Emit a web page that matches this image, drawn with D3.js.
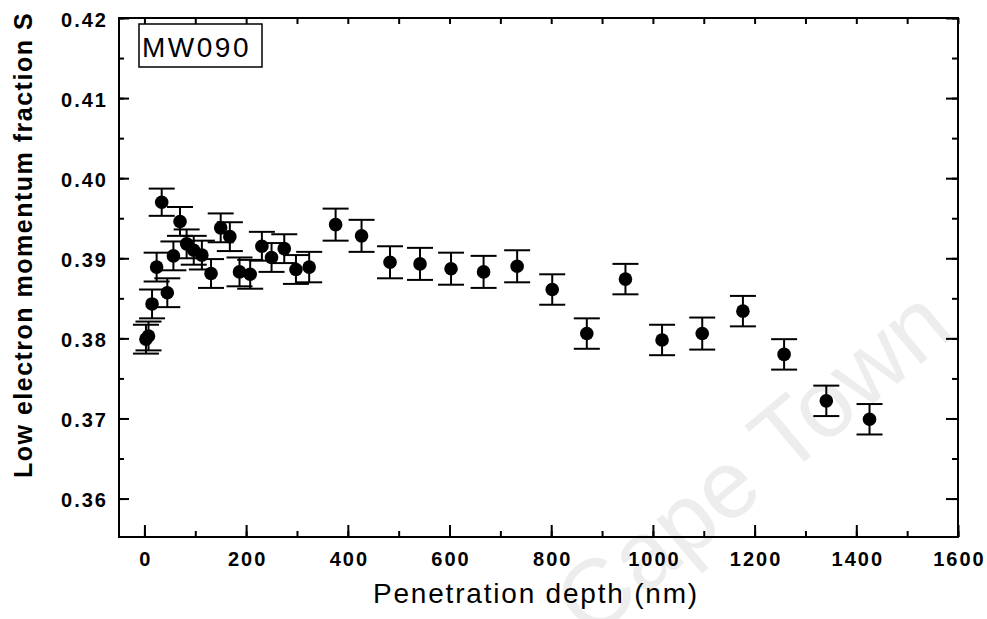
<!DOCTYPE html>
<html>
<head>
<meta charset="utf-8">
<script src="https://cdn.jsdelivr.net/npm/d3@7"></script>
<style>
    body{margin:0;background:#fff;}
    text{font-family:"Liberation Sans",Arial,sans-serif;fill:#000;}
</style>
</head>
<body>
<svg width="987" height="619"></svg>
<script>
// penetration depth (nm)
const depth=[3,8,15,24,34,45,57,70,83,97,113,131,150,168,187,208,231,250,275,298,324,
    376,427,483,542,603,667,733,802,870,946,1018,1097,1177,1258,1341,1426];
// S parameter
const sValue=[0.3799,0.3803,0.3843,0.3889,0.3970,0.3857,0.3903,0.3946,0.3918,0.3910,0.3904,
    0.3881,0.3938,0.3927,0.3883,0.3880,0.3915,0.3901,0.3912,0.3886,0.3889,
    0.3942,0.3928,0.3895,0.3893,0.3887,0.3883,0.3890,0.3861,0.3806,0.3874,
    0.3798,0.3806,0.3834,0.3780,0.3722,0.3699];
const sError=[0.0018,0.0018,0.0018,0.0018,0.0017,0.0018,0.0018,0.0018,0.0018,0.0018,0.0018,
    0.0018,0.0018,0.0018,0.0018,0.0018,0.0018,0.0018,0.0018,0.0018,0.0019,
    0.0020,0.0020,0.0020,0.0020,0.0020,0.0020,0.0020,0.0019,0.0019,0.0019,
    0.0019,0.0020,0.0019,0.0019,0.0019,0.0019];
const xTicks=[0,200,400,600,800,1000,1200,1400,1600];
const yTicks=[0.36,0.37,0.38,0.39,0.40,0.41,0.42];
const sampleName="MW090";

const svg=d3.select("svg");

const mLeft=119, mRight=958, mTop=18, mBottom=537;

const x=d3.scaleLinear().domain([-50,1600]).range([mLeft,mRight]);
const y=d3.scaleLinear().domain([0.3552,0.42]).range([mBottom,mTop]);

const data=depth.map(function(d,i){
    return {x:d,s:sValue[i],e:sError[i]};
});

//watermark
svg.append("text")
    .attr("transform","translate(752,462) rotate(-40)")
    .attr("text-anchor","middle")
    .attr("dominant-baseline","central")
    .style("font-size","96px")
    .style("fill","#ededed")
    .text("Cape Town");

//frame
svg.append("rect")
    .attr("x",mLeft).attr("y",mTop)
    .attr("width",mRight-mLeft).attr("height",mBottom-mTop)
    .attr("fill","none")
    .attr("stroke","#000")
    .attr("stroke-width",2);

const tickFont=function(g){
    g.select(".domain").remove();
    g.selectAll("line").attr("stroke","#000").attr("stroke-width",2);
    g.selectAll("text")
        .style("font-size","20px")
        .style("font-weight","bold")
        .style("letter-spacing","2px")
        .attr("fill","#000");
};

// bottom axis, ticks inward
const xMinor=d3.range(0,1601,100);
svg.append("g")
    .attr("transform","translate(0,"+mBottom+")")
    .call(d3.axisBottom(x).tickValues(xMinor).tickSize(-6).tickFormat(""))
    .call(tickFont);
svg.append("g")
    .attr("transform","translate(0,"+mBottom+")")
    .call(d3.axisBottom(x).tickValues(xTicks).tickSize(-12).tickPadding(15).tickFormat(d3.format("d")))
    .call(tickFont)
    .selectAll("text").attr("dx","1px");

// top axis
svg.append("g")
    .attr("transform","translate(0,"+mTop+")")
    .call(d3.axisTop(x).tickValues(xMinor).tickSize(-6).tickFormat(""))
    .call(tickFont);

// left axis
const yMinor=d3.range(0,14).map(function(i){return 0.355+i*0.005;}).filter(function(v){return v>0.3552;});
svg.append("g")
    .attr("transform","translate("+mLeft+",0)")
    .call(d3.axisLeft(y).tickValues(yMinor).tickSize(-5).tickFormat(""))
    .call(tickFont);
svg.append("g")
    .attr("transform","translate("+mLeft+",0)")
    .call(d3.axisLeft(y).tickValues(yTicks).tickSize(-10).tickPadding(11).tickFormat(d3.format(".2f")))
    .call(tickFont)
    .selectAll("text").attr("dy","0.4em");

// right axis
svg.append("g")
    .attr("transform","translate("+mRight+",0)")
    .call(d3.axisRight(y).tickValues(yMinor).tickSize(-6).tickFormat(""))
    .call(tickFont);
svg.append("g")
    .attr("transform","translate("+mRight+",0)")
    .call(d3.axisRight(y).tickValues(yTicks).tickSize(-12).tickFormat(""))
    .call(tickFont);

//axis titles
svg.append("text")
    .attr("x",536)
    .attr("y",603)
    .attr("text-anchor","middle")
    .style("font-size","28px")
    .style("letter-spacing","1.8px")
    .text("Penetration depth (nm)");

svg.append("text")
    .attr("transform","translate(32,245) rotate(-90)")
    .attr("text-anchor","middle")
    .style("font-size","25px")
    .style("font-weight","bold")
    .style("letter-spacing","1.5px")
    .text("Low electron momentum fraction S");

// sample label
svg.append("rect")
    .attr("x",139).attr("y",24)
    .attr("width",123).attr("height",43)
    .attr("fill","#fff")
    .attr("stroke","#000")
    .attr("stroke-width",1.5);
svg.append("text")
    .attr("x",142)
    .attr("y",57)
    .style("font-size","28px")
    .style("letter-spacing","2.5px")
    .text(sampleName);

//error bars and points
const capHalf=13;
const pts=svg.append("g").selectAll("g")
    .data(data)
    .enter()
    .append("g");

pts.append("line")
    .attr("x1",function(d){return x(d.x);})
    .attr("x2",function(d){return x(d.x);})
    .attr("y1",function(d){return y(d.s-d.e);})
    .attr("y2",function(d){return y(d.s+d.e);})
    .attr("stroke","#000").attr("stroke-width",2);
pts.append("line")
    .attr("x1",function(d){return x(d.x)-capHalf;})
    .attr("x2",function(d){return x(d.x)+capHalf;})
    .attr("y1",function(d){return y(d.s+d.e);})
    .attr("y2",function(d){return y(d.s+d.e);})
    .attr("stroke","#000").attr("stroke-width",2);
pts.append("line")
    .attr("x1",function(d){return x(d.x)-capHalf;})
    .attr("x2",function(d){return x(d.x)+capHalf;})
    .attr("y1",function(d){return y(d.s-d.e);})
    .attr("y2",function(d){return y(d.s-d.e);})
    .attr("stroke","#000").attr("stroke-width",2);
pts.append("circle")
    .attr("cx",function(d){return x(d.x);})
    .attr("cy",function(d){return y(d.s);})
    .attr("r",6.8)
    .attr("fill","#000");
</script>
</body>
</html>
